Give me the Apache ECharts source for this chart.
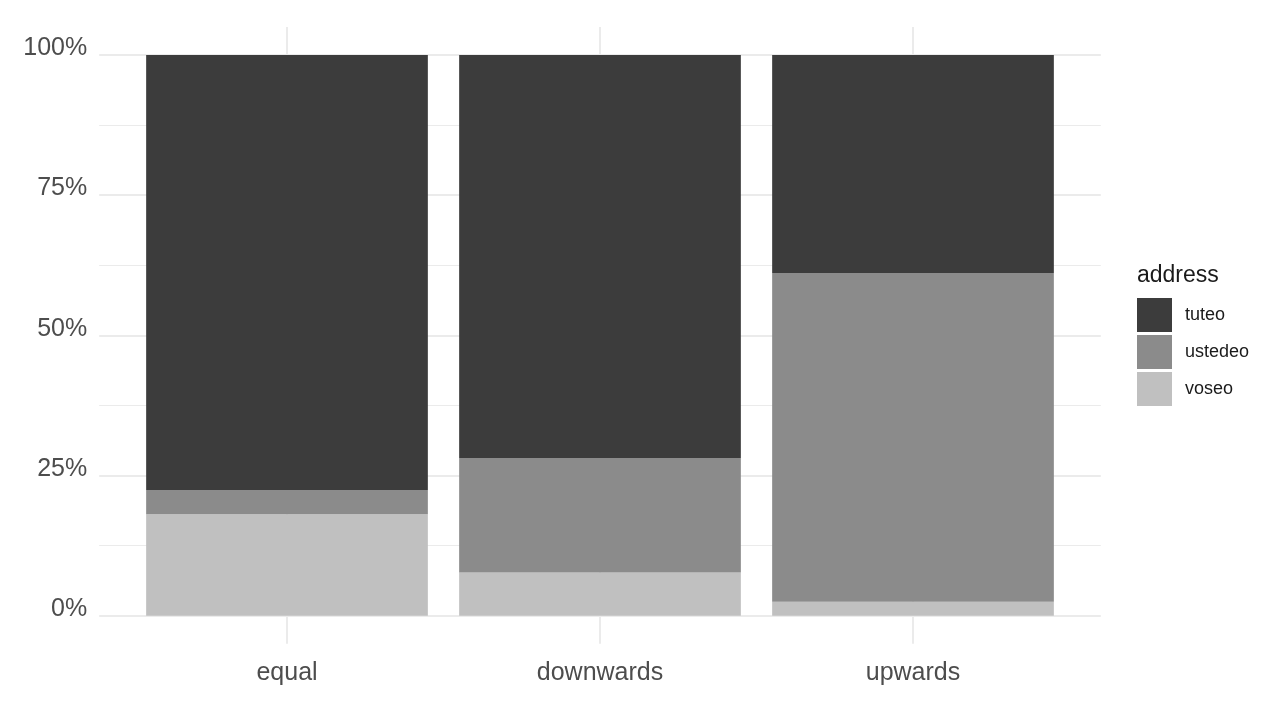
<!DOCTYPE html>
<html>
<head>
<meta charset="utf-8">
<script src="https://cdn.jsdelivr.net/npm/echarts@6/dist/echarts.min.js"></script>
<style>
  html, body { margin: 0; padding: 0; background: #fff; }
  #chart { width: 1282px; height: 727px; }
</style>
</head>
<body>
<div id="chart"></div>
<script>
// categories and shares (fractions of each bar)
var categories = ['equal', 'downwards', 'upwards'];
var voseo   = [0.181, 0.077, 0.025];
var ustedeo = [0.043, 0.204, 0.586];
var tuteo   = [0.776, 0.719, 0.389];
var legendNames = ['tuteo', 'ustedeo', 'voseo'];
var colors = { tuteo: '#3c3c3c', ustedeo: '#8b8b8b', voseo: '#c0c0c0' };

var FONT = '"Liberation Sans", Arial, Helvetica, sans-serif';
var chart = echarts.init(document.getElementById('chart'));

function barSeries(name, values) {
  return {
    name: name,
    type: 'bar',
    stack: 'address',
    xAxisIndex: 1,
    yAxisIndex: 1,
    barWidth: '90%',
    itemStyle: { color: colors[name] },
    emphasis: { disabled: true },
    data: values
  };
}

var option = {
  backgroundColor: '#ffffff',
  animation: false,
  textStyle: { fontFamily: FONT },
  title: {
    text: 'address',
    left: 1137,
    top: 264,
    padding: 0,
    textStyle: { fontSize: 23, fontWeight: 'normal', color: '#1a1a1a', fontFamily: FONT }
  },
  legend: {
    data: legendNames,
    orient: 'vertical',
    left: 1137,
    top: 298,
    padding: 0,
    itemWidth: 35,
    itemHeight: 34,
    itemGap: 3,
    icon: 'rect',
    selectedMode: false,
    textStyle: { fontSize: 18, color: '#1a1a1a', fontFamily: FONT, padding: [0, 0, 0, 8] }
  },
  grid: [
    // panel for horizontal grid lines and y labels (ggplot expanded x range)
    { left: 99.2, right: 181.2, top: 54.9, bottom: 111.3, containLabel: false },
    // bars + vertical grid lines (panel expanded 5% in y)
    { left: 130.5, right: 212.5, top: 26.9, bottom: 83.3, containLabel: false }
  ],
  xAxis: [
    { type: 'category', gridIndex: 0, data: categories, show: false },
    {
      type: 'category',
      gridIndex: 1,
      data: categories,
      axisLine: { show: false },
      axisTick: { show: false },
      axisLabel: { fontSize: 25, color: '#4d4d4d', margin: 17, fontFamily: FONT },
      splitLine: { show: true, alignWithLabel: true, lineStyle: { color: '#ebebeb', width: 2 } }
    }
  ],
  yAxis: [
    {
      type: 'value',
      gridIndex: 0,
      min: 0,
      max: 1,
      interval: 0.25,
      axisLine: { show: false },
      axisTick: { show: false },
      minorTick: { show: false, splitNumber: 2 },
      splitLine: { show: true, lineStyle: { color: '#ebebeb', width: 2 } },
      minorSplitLine: { show: true, lineStyle: { color: '#ebebeb', width: 1 } },
      axisLabel: {
        fontSize: 25,
        color: '#4d4d4d',
        margin: 12,
        fontFamily: FONT,
        verticalAlign: 'bottom',
        lineHeight: 13,
        formatter: function (v) { return Math.round(v * 100) + '%'; }
      }
    },
    { type: 'value', gridIndex: 1, min: -0.05, max: 1.05, show: false }
  ],
  series: [
    barSeries('voseo', voseo),
    barSeries('ustedeo', ustedeo),
    barSeries('tuteo', tuteo)
  ]
};

chart.setOption(option);
</script>
</body>
</html>
